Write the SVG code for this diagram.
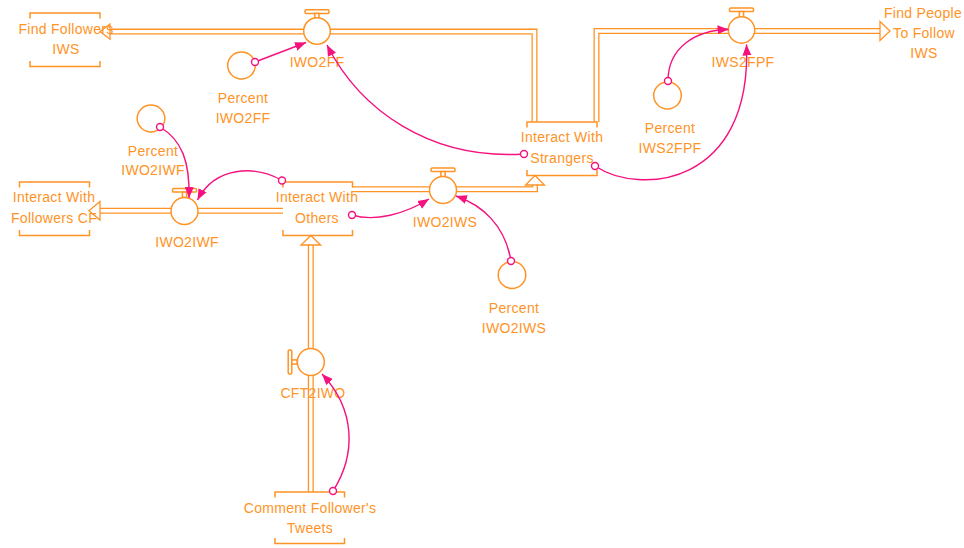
<svg xmlns="http://www.w3.org/2000/svg" width="964" height="548" viewBox="0 0 964 548">
  <style>
    text { font-family: "Liberation Sans", Arial, sans-serif; font-size: 14px; fill: #FF9326; text-anchor: middle; letter-spacing: 0.3px; }
    .pipe-outer { fill: none; stroke: #FF9326; stroke-width: 6; stroke-linejoin: miter; }
    .pipe-inner { fill: none; stroke: #FFFFFF; stroke-width: 3.4; stroke-linejoin: miter; }
    .head { fill: #FFFFFF; stroke: #FF9326; stroke-width: 1.3; stroke-linejoin: miter; }
    .stock { fill: none; stroke: #FF9326; stroke-width: 1.5; }
    .valve { fill: #FFFFFF; stroke: #FF9326; stroke-width: 1.5; }
    .aux { fill: #FFFFFF; stroke: #FF9326; stroke-width: 1.5; }
    .link { fill: none; stroke: #F5117E; stroke-width: 1.4; marker-end: url(#arrow); }
    .tail { fill: #FFFFFF; stroke: #F5117E; stroke-width: 1.4; }
  </style>
  <defs>
    <marker id="arrow" markerUnits="userSpaceOnUse" markerWidth="12" markerHeight="10" refX="11" refY="5" orient="auto">
      <path d="M0,0.5 L11,5 L0,9.5 Z" fill="#F5117E"/>
    </marker>
  </defs>
  <rect width="964" height="548" fill="#FFFFFF"/>

  <!-- flow pipes (double lines) with hollow heads -->
  <g id="flows">
    <!-- Interact With Strangers -> IWO2FF -> Find Followers IWS -->
    <path class="pipe-outer" d="M534.5,122 V31.6 H110"/>
    <path class="pipe-inner" d="M534.5,122 V31.6 H110"/>
    <polygon class="head" points="100,31.6 110,24 110,39.2"/>
    <!-- Interact With Strangers -> IWS2FPF -> Find People To Follow IWS -->
    <path class="pipe-outer" d="M596.5,122 V31 H880"/>
    <path class="pipe-inner" d="M596.5,122 V31 H880"/>
    <polygon class="head" points="890,31 880,21.5 880,40.5"/>
    <!-- Interact With Others -> IWO2IWF -> Interact With Followers CF -->
    <path class="pipe-outer" d="M283,210.8 H100"/>
    <path class="pipe-inner" d="M283,210.8 H100"/>
    <polygon class="head" points="89,210.8 100,201.5 100,220.1"/>
    <!-- Interact With Others -> IWO2IWS -> Interact With Strangers -->
    <path class="pipe-outer" d="M352,189.2 H535 V185"/>
    <path class="pipe-inner" d="M352,189.2 H535 V185"/>
    <polygon class="head" points="535,175.5 525.5,185 544.5,185"/>
    <!-- Comment Follower's Tweets -> CFT2IWO -> Interact With Others -->
    <path class="pipe-outer" d="M310.8,492 V245"/>
    <path class="pipe-inner" d="M310.8,492 V245"/>
    <polygon class="head" points="310.8,235.5 301,245 320.6,245"/>
  </g>

  <!-- stocks -->
  <g id="find-followers-iws">
    <path class="stock" d="M30,18.5 V13 H100 V18.5 M30,61 V66.5 H100 V61"/>
    <text x="66" y="34">Find Followers</text>
    <text x="66" y="54">IWS</text>
  </g>
  <g id="interact-with-strangers">
    <path class="stock" d="M527,127.5 V122 H597 V127.5 M527,170 V175.5 H597 V170"/>
    <text x="562" y="142">Interact With</text>
    <text x="562" y="163">Strangers</text>
  </g>
  <g id="find-people-to-follow-iws">
    <text x="923" y="18">Find People</text>
    <text x="924" y="38">To Follow</text>
    <text x="924" y="58">IWS</text>
  </g>
  <g id="interact-with-followers-cf">
    <path class="stock" d="M19.5,187.5 V182 H89.5 V187.5 M19.5,230 V235.5 H89.5 V230"/>
    <text x="54" y="202">Interact With</text>
    <text x="54" y="223">Followers CF</text>
  </g>
  <g id="interact-with-others">
    <path class="stock" d="M283,187.5 V182 H352.5 V187.5 M283,230 V235.5 H352.5 V230"/>
    <text x="317" y="202">Interact With</text>
    <text x="317" y="223">Others</text>
  </g>
  <g id="comment-followers-tweets">
    <path class="stock" d="M275,497.5 V492 H344.5 V497.5 M275,538 V543.5 H344.5 V538"/>
    <text x="310" y="513">Comment Follower's</text>
    <text x="310" y="533">Tweets</text>
  </g>

  <!-- flow valves -->
  <g id="iwo2ff">
    <rect class="valve" x="305" y="9.8" width="24" height="3.6" rx="1.2"/>
    <rect class="valve" x="314.8" y="13.4" width="4.2" height="4.6"/>
    <circle class="valve" cx="317" cy="31" r="13.3"/>
    <text x="317" y="67">IWO2FF</text>
  </g>
  <g id="iws2fpf">
    <rect class="valve" x="729.5" y="8" width="24" height="3.6" rx="1.2"/>
    <rect class="valve" x="739.4" y="11.6" width="4.2" height="5.2"/>
    <circle class="valve" cx="741.5" cy="30" r="13.2"/>
    <text x="743" y="67">IWS2FPF</text>
  </g>
  <g id="iwo2iwf">
    <rect class="valve" x="172.5" y="188.5" width="24" height="3.6" rx="1.2"/>
    <rect class="valve" x="182.4" y="192.1" width="4.2" height="5.4"/>
    <circle class="valve" cx="184.5" cy="211" r="13.5"/>
    <text x="187" y="247">IWO2IWF</text>
  </g>
  <g id="iwo2iws">
    <rect class="valve" x="431" y="168" width="24" height="3.6" rx="1.2"/>
    <rect class="valve" x="440.9" y="171.6" width="4.2" height="5"/>
    <circle class="valve" cx="443" cy="190" r="13.5"/>
    <text x="445" y="227">IWO2IWS</text>
  </g>
  <g id="cft2iwo">
    <rect class="valve" x="288.2" y="350" width="3.6" height="24" rx="1.2"/>
    <rect class="valve" x="291.8" y="359.9" width="5.5" height="4.2"/>
    <circle class="valve" cx="310.8" cy="362" r="13.5"/>
    <text x="313" y="398">CFT2IWO</text>
  </g>

  <!-- auxiliary variables -->
  <g id="percent-iwo2ff">
    <ellipse class="aux" cx="241.5" cy="65.5" rx="13.8" ry="13.4"/>
    <text x="243" y="103">Percent</text>
    <text x="243" y="123">IWO2FF</text>
  </g>
  <g id="percent-iws2fpf">
    <ellipse class="aux" cx="667.5" cy="95.5" rx="13.8" ry="13.4"/>
    <text x="670" y="133">Percent</text>
    <text x="670" y="153">IWS2FPF</text>
  </g>
  <g id="percent-iwo2iwf">
    <ellipse class="aux" cx="151" cy="118.5" rx="13.8" ry="13.4"/>
    <text x="153" y="156">Percent</text>
    <text x="153" y="175">IWO2IWF</text>
  </g>
  <g id="percent-iwo2iws">
    <ellipse class="aux" cx="512" cy="275" rx="13.8" ry="13.4"/>
    <text x="514" y="313">Percent</text>
    <text x="514" y="333">IWO2IWS</text>
  </g>

  <!-- causal links, drawn on top so their tails sit over the node outlines -->
  <g id="connectors">
    <path class="link" d="M255,62 L306,42.5"/>
    <circle class="tail" cx="255" cy="62" r="3.5"/>
    <path class="link" d="M524,154 C430,160 360,110 327,45"/>
    <circle class="tail" cx="524" cy="154" r="3.5"/>
    <path class="link" d="M668,81 C668,48 695,30 728.5,29.5"/>
    <circle class="tail" cx="668" cy="81" r="3.5"/>
    <path class="link" d="M595,166 C640,196 752,186 746.5,44.5"/>
    <circle class="tail" cx="595" cy="166" r="3.5"/>
    <path class="link" d="M160,127 C182,140 190,162 189,198"/>
    <circle class="tail" cx="160" cy="127" r="3.5"/>
    <path class="link" d="M282,180.5 C255,165 215,166 197.5,200"/>
    <circle class="tail" cx="282" cy="180.5" r="3.5"/>
    <path class="link" d="M352,215 C375,222 405,214 429,199"/>
    <circle class="tail" cx="352" cy="215" r="3.5"/>
    <path class="link" d="M511,261 C505,225 482,205 456,196"/>
    <circle class="tail" cx="511" cy="261" r="3.5"/>
    <path class="link" d="M333,491 C356,455 356,410 322,374"/>
    <circle class="tail" cx="333" cy="491" r="3.5"/>
  </g>
</svg>
